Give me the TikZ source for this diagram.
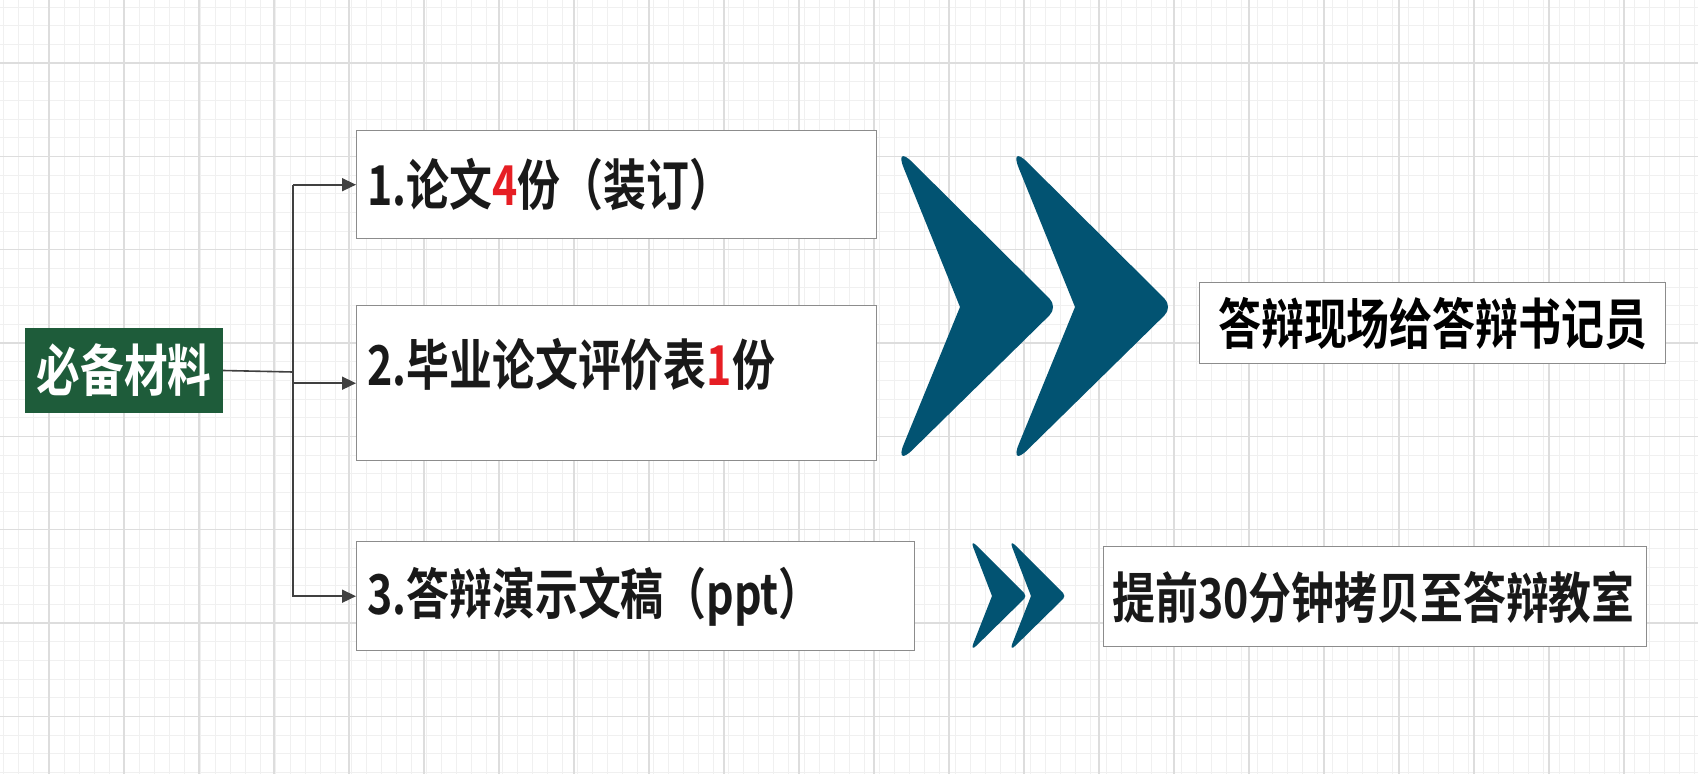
\documentclass[tikz,border=0pt]{standalone}
\usepackage{fontspec}
\newfontfamily\cjk[FakeStretch=0.78]{Noto Sans CJK SC Bold}
\usetikzlibrary{arrows.meta}

\definecolor{matgreen}{RGB}{30,92,58}
\definecolor{chevblue}{RGB}{2,83,114}
\definecolor{gridminor}{RGB}{240,240,240}
\definecolor{gridmajor}{RGB}{221,221,221}
\definecolor{numred}{RGB}{230,30,36}

\tikzset{
  box/.style={draw=black!45, line width=1.4pt, fill=white, anchor=north west, inner sep=0pt},
  itemtext/.style={anchor=west, inner sep=0pt, text=black!90, font=\cjk\fontsize{55}{60}\selectfont},
  link/.style={draw=black!75, line width=1.6pt},
  arr/.style={link, -{Triangle[length=14pt,width=13pt]}},
  chev/.style={fill=chevblue},
}

\begin{document}
\begin{tikzpicture}[x=1pt,y=-1pt]
  \useasboundingbox[fill=white] (0,0) rectangle (1698,774);
  % background grid
  \foreach \x in {3.7,18.8,...,1698} \draw[gridminor, line width=1pt] (\x,0) -- (\x,774);
  \foreach \y in {7,25.67,...,774} \draw[gridminor, line width=1pt] (0,\y) -- (1698,\y);
  \foreach \x in {49,124,...,1698} \draw[gridmajor, line width=1.3pt] (\x,0) -- (\x,774);
  \foreach \y in {63,156.33,...,774} \draw[gridmajor, line width=1.3pt] (0,\y) -- (1698,\y);

  % left: material
  \node[fill=matgreen, minimum width=198, minimum height=85, inner sep=0pt,
        text=white, font=\cjk\fontsize{56}{60}\selectfont] (mat) at (124,370.5) {必备材料};

  % the three boxes
  \node[box, minimum width=520, minimum height=108] (box1) at (356,130) {};
  \node[box, minimum width=520, minimum height=155] (box2) at (356,305) {};
  \node[box, minimum width=558, minimum height=109] (box3) at (356,541) {};
  \node[itemtext] (t1) at (367,185) {1.论文\textcolor{numred}{4}份（装订）};
  \node[itemtext] (t2) at (367,365) {2.毕业论文评价表\textcolor{numred}{1}份};
  \node[itemtext] (t3) at (367,597) {3.答辩演示文稿（ppt）};

  % connectors
  \coordinate (bus) at (293,372);
  \draw[link] (mat.east) -- (bus);
  \draw[link] (bus) -- (bus |- box1.west);
  \draw[arr] (bus |- box1.west) -- (box1.west);
  \draw[arr] (bus) |- (box2.west);
  \draw[arr] (bus) |- (box3.west);

  % chevrons
  \foreach \dx in {0,115}
    \fill[chev] (960+\dx,307) [rounded corners=26] -- (894+\dx,144) [rounded corners=12] -- (1058+\dx,307) [rounded corners=26] -- (894+\dx,468) [sharp corners] -- cycle;
  \foreach \dx in {0,39}
    \fill[chev] (992+\dx,596) [rounded corners=9] -- (970+\dx,539) [rounded corners=4] -- (1027+\dx,596) [rounded corners=9] -- (970+\dx,652) [sharp corners] -- cycle;

  % right: where they go
  \node[box, minimum width=466, minimum height=81, font=\cjk\fontsize{55}{60}\selectfont] (r1) at (1199,282) {答辩现场给答辩书记员};
  \node[box, minimum width=543, minimum height=100] (r2) at (1103,546) {};
  \node[itemtext] (t4) at (1112,597) {提前30分钟拷贝至答辩教室};
\end{tikzpicture}
\end{document}
